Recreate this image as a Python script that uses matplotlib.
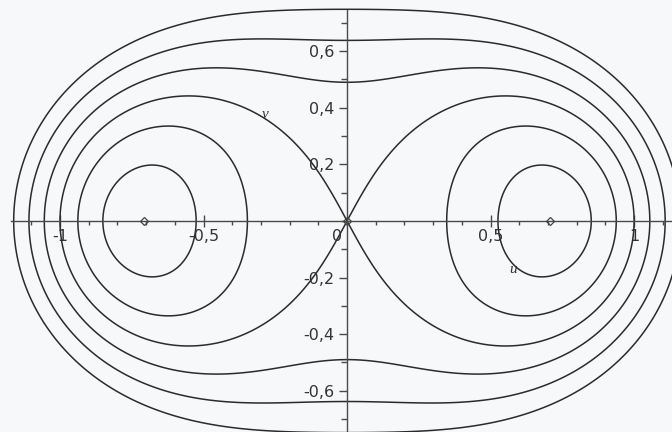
import numpy as np
import matplotlib
matplotlib.use("Agg")
import matplotlib.pyplot as plt
from matplotlib.ticker import MultipleLocator, FixedLocator

# energy levels of the plotted trajectories (separatrix at 0)
levels = [-0.2, -0.106, 0.0, 0.125, 0.28, 0.47]
damp_v = 0.28          # coefficient of the v^2 term

# equilibria
eq_u = [-0.707, 0.0, 0.707]
eq_v = [0.0, 0.0, 0.0]

xtick_vals = [-1.0, -0.5, 0.5, 1.0]
xtick_text = ["-1", "-0,5", "0,5", "1"]
xminor_vals = [-1.1, -0.9, -0.8, -0.7, -0.6, -0.4, -0.3, -0.2, -0.1,
               0.1, 0.2, 0.3, 0.4, 0.6, 0.7, 0.8, 0.9, 1.1]
ytick_vals = [-0.6, -0.4, -0.2, 0.2, 0.4, 0.6]
ytick_text = ["-0,6", "-0,4", "-0,2", "0,2", "0,4", "0,6"]

BG = "#f7f8f9"
INK = "#2b2b2b"

fig = plt.figure(figsize=(6.72, 4.32), dpi=100, facecolor=BG)
ax = fig.add_axes([0, 0, 1, 1], facecolor=BG)

u = np.linspace(-1.25, 1.25, 1400)
v = np.linspace(-0.8, 0.8, 900)
U, V = np.meshgrid(u, v)
H = (U**2 + V**2)**2 - U**2 + damp_v * V**2

ax.contour(U, V, H, levels=levels, colors=INK, linewidths=1.1,
           linestyles="solid", negative_linestyles="solid")

ax.plot(eq_u, eq_v, "D", ms=4, mfc="none", mec="#444444", mew=0.9, zorder=5)

ax.set_xlim(-1.209, 1.132)
ax.set_ylim(-0.746, 0.781)

for s in ("top", "right"):
    ax.spines[s].set_visible(False)
ax.spines["left"].set_position(("data", 0))
ax.spines["bottom"].set_position(("data", 0))
ax.spines["left"].set_bounds(-0.746, 0.745)
ax.spines["bottom"].set_bounds(-1.17, 1.132)
for s in ("left", "bottom"):
    ax.spines[s].set_color("#4a4a4a")
    ax.spines[s].set_linewidth(1.0)

ax.xaxis.set_major_locator(FixedLocator(xtick_vals))
ax.xaxis.set_minor_locator(FixedLocator(xminor_vals))
ax.yaxis.set_major_locator(FixedLocator(ytick_vals))
ax.yaxis.set_minor_locator(MultipleLocator(0.1))
ax.set_xticklabels(xtick_text)
ax.set_yticklabels(ytick_text)

ax.tick_params(axis="x", which="major", direction="inout", length=8, width=1.0,
               color="#4a4a4a", labelsize=11.5, labelcolor="#333333", pad=2)
ax.tick_params(axis="x", which="minor", direction="out", length=3, width=1.0,
               color="#4a4a4a")
ax.tick_params(axis="y", which="major", direction="out", length=6, width=1.0,
               color="#4a4a4a", labelsize=11.5, labelcolor="#333333", pad=3)
ax.tick_params(axis="y", which="minor", direction="out", length=4, width=1.0,
               color="#4a4a4a")

ax.text(-0.018, -0.03, "0", fontsize=11.5, color="#333333", ha="right", va="top")

ax.text(-0.286, 0.375, "v", fontsize=11, style="italic", color="#333333",
        family="Liberation Serif", ha="center", va="center")
ax.text(0.578, -0.17, "u", fontsize=11, style="italic", color="#333333",
        family="Liberation Serif", ha="center", va="center")

fig.savefig("out.png", dpi=100, facecolor=BG)
